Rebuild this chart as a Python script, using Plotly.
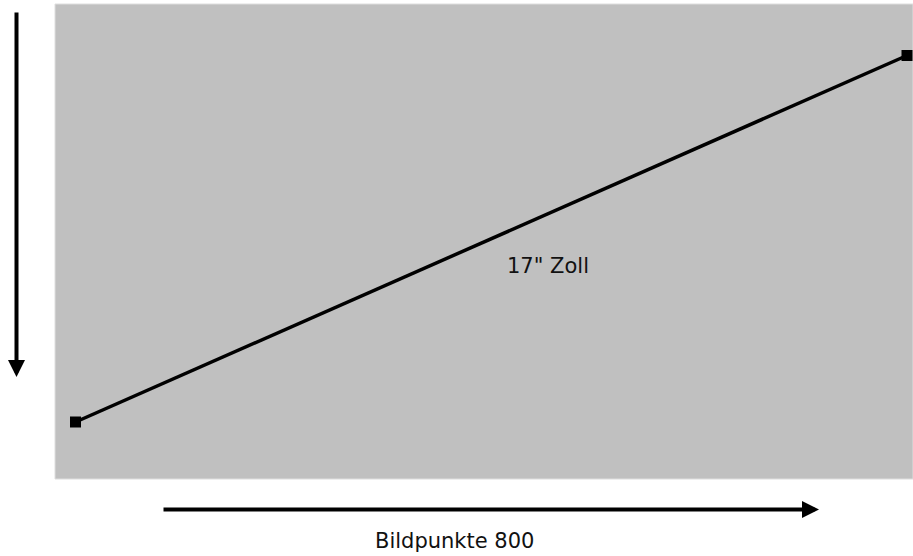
import plotly.graph_objects as go

# Canvas (pixel-unit coordinate system of the diagram)
canvas_w = 913
canvas_h = 556

# Screen area (gray panel)
screen_x = [55, 913]
screen_y = [4, 479]

# Diagonal (screen diagonal, 17")
diag_x = [75.5, 907]
diag_y = [422, 55.5]
diag_label = '17" Zoll'
diag_label_pos = [547.5, 266]

# Width arrow (800 pixels)
width_arrow_x = [162, 819]
width_arrow_y = [509.5, 509.5]
width_label = "Bildpunkte 800"
width_label_pos = [454, 540.5]

# Height arrow
height_arrow_x = [16.5, 16.5]
height_arrow_y = [11, 377]

font_family = "DejaVu Sans"

fig = go.Figure()

fig.add_shape(type="rect", xref="x", yref="y",
              x0=screen_x[0], x1=screen_x[1], y0=screen_y[0], y1=screen_y[1],
              fillcolor="#c0c0c0", line=dict(color="#dedede", width=1), layer="below")

fig.add_trace(go.Scatter(
    x=diag_x, y=diag_y, mode="lines+markers",
    line=dict(color="black", width=3.5),
    marker=dict(symbol="square", size=11, color="black"),
    hoverinfo="skip", showlegend=False, cliponaxis=False,
))

arrow_common = dict(text="", showarrow=True, arrowhead=2, arrowwidth=4,
                    arrowsize=0.85, arrowcolor="black", xref="x", yref="y",
                    axref="x", ayref="y", standoff=0, startstandoff=0)

fig.add_annotation(x=width_arrow_x[1], y=width_arrow_y[1],
                   ax=width_arrow_x[0], ay=width_arrow_y[0], **arrow_common)
fig.add_annotation(x=height_arrow_x[1], y=height_arrow_y[1],
                   ax=height_arrow_x[0], ay=height_arrow_y[0], **arrow_common)

fig.add_annotation(x=diag_label_pos[0], y=diag_label_pos[1], text=diag_label,
                   showarrow=False, xref="x", yref="y",
                   font=dict(family=font_family, size=21, color="#111111"))
fig.add_annotation(x=width_label_pos[0], y=width_label_pos[1], text=width_label,
                   showarrow=False, xref="x", yref="y",
                   font=dict(family=font_family, size=21, color="#111111"))

fig.update_layout(
    width=canvas_w, height=canvas_h,
    margin=dict(l=0, r=0, t=0, b=0),
    paper_bgcolor="white", plot_bgcolor="white",
    xaxis=dict(range=[0, canvas_w], visible=False, fixedrange=True),
    yaxis=dict(range=[canvas_h, 0], visible=False, fixedrange=True),
)

fig.write_html("out.html", config={"displayModeBar": False},
               post_script="document.body.style.margin='0';document.body.style.overflow='hidden';")
